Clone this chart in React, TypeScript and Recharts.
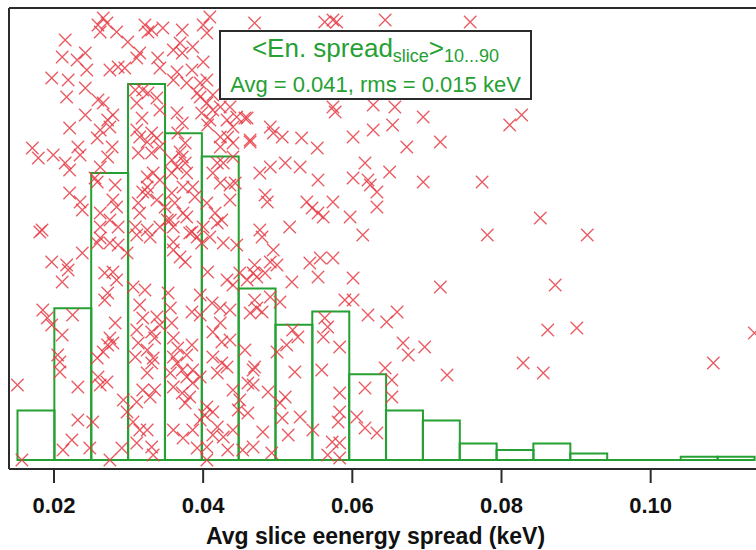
import React from 'react'
import {
  ComposedChart,
  Bar,
  Scatter,
  XAxis,
  YAxis,
  ReferenceLine,
} from 'recharts'

// histogram: 20 equal bins spanning min..max of the slice spread values (keV)
const binStart = 0.01511
const binWidth = 0.00494
const binCounts = [15, 46, 87, 114, 99, 92, 52, 41, 45, 26, 15, 12, 5, 3, 5, 2, 0, 0, 1, 1]

const xTicks = [0.02, 0.04, 0.06, 0.08, 0.1]

// per-shot avg slice energy spread (keV) and shot number
const spreadKeV = [
  0.0266, 0.0259, 0.0271, 0.0262, 0.0284, 0.0299, 0.0322, 0.0326, 0.0331, 0.0346,
  0.0372, 0.04, 0.0409, 0.0405, 0.0215, 0.0211, 0.0231, 0.0242, 0.0244, 0.0197,
  0.0219, 0.0275, 0.0286, 0.0295, 0.0311, 0.0315, 0.0339, 0.0342, 0.036, 0.0369,
  0.0372, 0.0386, 0.0385, 0.04, 0.0405, 0.036, 0.0365, 0.0378, 0.0392, 0.0396,
  0.0413, 0.0242, 0.0217, 0.0259, 0.0266, 0.0279, 0.0272, 0.0242, 0.0221, 0.0262,
  0.0258, 0.0275, 0.0309, 0.0319, 0.0326, 0.0338, 0.0342, 0.0311, 0.0318, 0.0311,
  0.0331, 0.0338, 0.0342, 0.0331, 0.0313, 0.0171, 0.0179, 0.0199, 0.0215, 0.0221,
  0.0232, 0.0235, 0.0278, 0.0272, 0.0262, 0.0255, 0.0258, 0.0282, 0.0221, 0.0235,
  0.0238, 0.0262, 0.0279, 0.0284, 0.0275, 0.0262, 0.0286, 0.0184, 0.0365, 0.0372,
  0.0366, 0.0376, 0.0369, 0.0372, 0.0358, 0.0365, 0.0376, 0.0378, 0.0358, 0.0373,
  0.0386, 0.0389, 0.0358, 0.0362, 0.0373, 0.0378, 0.0356, 0.036, 0.0385, 0.0396,
  0.0405, 0.0413, 0.0398, 0.0409, 0.0406, 0.0423, 0.0436, 0.0445, 0.044, 0.0432,
  0.0456, 0.0463, 0.0423, 0.0433, 0.044, 0.0423, 0.0419, 0.0427, 0.044, 0.0413,
  0.0423, 0.0436, 0.0443, 0.0436, 0.0416, 0.0419, 0.0425, 0.0405, 0.04, 0.0325,
  0.0319, 0.0326, 0.0333, 0.0325, 0.0342, 0.0338, 0.0349, 0.0352, 0.0342, 0.0313,
  0.0315, 0.0309, 0.0325, 0.0329, 0.0315, 0.0325,
  0.0469, 0.0563, 0.0574, 0.0579, 0.0644, 0.0758, 0.0574, 0.0577, 0.0628, 0.0657,
  0.0459, 0.049, 0.0494, 0.0506, 0.0463, 0.0532, 0.0553, 0.0601, 0.0628, 0.0654,
  0.0695, 0.0673, 0.0718, 0.0476, 0.049, 0.051, 0.053, 0.0554, 0.0601, 0.0617,
  0.0621, 0.0624, 0.0633, 0.065, 0.0695, 0.0774, 0.0483, 0.0486, 0.0539, 0.0546,
  0.0554, 0.0561, 0.0574, 0.0597, 0.0633, 0.0476, 0.0516, 0.0614, 0.0781,
  0.0811, 0.0827, 0.0852, 0.0915,
  0.0181, 0.0197, 0.0217, 0.0219, 0.0211, 0.0238, 0.0185, 0.0191, 0.0197, 0.0211,
  0.0225, 0.0151, 0.0205, 0.0208, 0.0208, 0.0232, 0.0232, 0.0224, 0.0212, 0.0157,
  0.0248, 0.0252, 0.0259, 0.0258, 0.0266, 0.0272, 0.0282, 0.0275, 0.0268, 0.0272,
  0.0268, 0.0279, 0.0284, 0.0262, 0.0275, 0.0286, 0.0258, 0.0298, 0.0311, 0.0306,
  0.0322, 0.0315, 0.0319, 0.0311, 0.0313, 0.0325, 0.0309, 0.0333, 0.0335, 0.0331,
  0.0342, 0.0338, 0.0331, 0.0325, 0.0335, 0.0319, 0.0329, 0.0311, 0.0293, 0.0298,
  0.0306, 0.0315, 0.0311, 0.0325, 0.0331, 0.0333, 0.0275, 0.0291, 0.0262, 0.0271,
  0.0279, 0.0353, 0.0356, 0.0358, 0.036, 0.0366, 0.0378, 0.0385, 0.036, 0.0365,
  0.0356, 0.0372, 0.0378, 0.036, 0.0372, 0.0382, 0.0376, 0.0386, 0.0396, 0.0386,
  0.0396, 0.0405, 0.0402, 0.0413, 0.036, 0.0373, 0.0386, 0.0392, 0.0405, 0.0413,
  0.0419, 0.0427, 0.044, 0.0447, 0.046, 0.0453, 0.0433, 0.0405, 0.036, 0.0369,
  0.0376, 0.036, 0.0382, 0.0392, 0.0398, 0.0409, 0.0427, 0.0445, 0.0406, 0.0432,
  0.044, 0.0396, 0.0412, 0.0423, 0.0436, 0.0396, 0.0385, 0.0423, 0.0413, 0.0436,
  0.0425, 0.0413, 0.0425, 0.0432, 0.0419, 0.0456, 0.0467, 0.046, 0.0449, 0.044,
  0.0467, 0.0459, 0.0469, 0.0472, 0.0463,
  0.0479, 0.0494, 0.0469, 0.049, 0.0499, 0.0483, 0.0472, 0.0449, 0.0543, 0.0557,
  0.0574, 0.0554, 0.0519, 0.0601, 0.0718, 0.0479, 0.049, 0.0503, 0.059, 0.0601,
  0.0621, 0.0646, 0.066, 0.0563, 0.0567, 0.0561, 0.052, 0.0527, 0.0512, 0.0499,
  0.0583, 0.0668, 0.0675, 0.0697, 0.0469, 0.0523, 0.0559, 0.0644, 0.0653, 0.0727,
  0.0467, 0.0487, 0.051, 0.0503, 0.0653, 0.0617, 0.0583, 0.0583, 0.0581, 0.0606,
  0.0617, 0.0633, 0.0506, 0.053, 0.048, 0.0514, 0.0547, 0.0467, 0.0492, 0.0573,
  0.0583, 0.0567, 0.0583,
  0.0872, 0.0862, 0.0901, 0.0829, 0.0856, 0.1084, 0.1139,
]

const shotNo = [
  451, 444, 446, 437, 437, 427, 444, 437, 439, 441,
  439, 444, 452, 436, 429, 412, 409, 416, 399, 391,
  389, 399, 402, 401, 411, 416, 411, 401, 419, 426,
  416, 422, 399, 407, 389, 389, 397, 386, 376, 386,
  374, 381, 372, 369, 366, 354, 349, 354, 341, 339,
  331, 342, 379, 379, 376, 371, 359, 366, 351, 339,
  336, 331, 322, 316, 316, 321, 311, 314, 306, 299,
  322, 314, 322, 312, 302, 291, 287, 284, 276, 267,
  259, 256, 269, 262, 249, 242, 242, 239, 356, 346,
  336, 326, 317, 312, 309, 302, 306, 296, 296, 282,
  282, 272, 276, 266, 256, 252, 249, 242, 237, 372,
  366, 359, 356, 349, 344, 362, 362, 352, 342, 349,
  351, 329, 332, 332, 326, 322, 306, 306, 312, 296,
  286, 284, 286, 269, 256, 246, 249, 266, 242, 282,
  277, 276, 296, 292, 289, 269, 262, 249, 242, 266,
  256, 242, 239, 232, 332, 327,
  446, 447, 449, 447, 449, 447, 362, 357, 364, 362,
  351, 342, 336, 332, 327, 331, 321, 332, 339, 344,
  352, 322, 327, 296, 302, 306, 302, 289, 291, 306,
  289, 284, 277, 297, 287, 287, 274, 267, 267, 261,
  256, 252, 267, 252, 262, 239, 242, 234, 234,
  344, 354, 251, 234,
  237, 207, 204, 199, 187, 216, 159, 151, 144, 134,
  154, 84, 114, 107, 97, 82, 49, 29, 19, 9,
  21, 47, 92, 111, 117, 124, 146, 131, 169, 176,
  196, 197, 189, 231, 226, 224, 226, 216, 234, 182,
  179, 164, 151, 139, 126, 119, 112, 111, 131, 137,
  144, 152, 106, 96, 79, 79, 72, 67, 69, 57,
  47, 39, 26, 39, 22, 14, 9, 21, 84, 87,
  126, 176, 161, 146, 131, 121, 114, 124, 112, 106,
  96, 99, 92, 82, 76, 72, 66, 86, 92, 99,
  49, 62, 54, 57, 39, 31, 39, 21, 22, 34,
  42, 32, 39, 59, 56, 19, 19, 9, 219, 212,
  207, 227, 236, 232, 226, 232, 226, 224, 197, 189,
  184, 174, 166, 161, 159, 154, 157, 146, 137, 129,
  127, 112, 106, 102, 96, 119, 99, 86, 69, 79,
  196, 189, 169, 161, 156,
  232, 219, 204, 207, 204, 196, 192, 196, 206, 211,
  211, 192, 187, 191, 182, 157, 172, 167, 169, 169,
  154, 147, 157, 151, 142, 132, 139, 132, 124, 117,
  122, 126, 114, 122, 102, 97, 99, 101, 89, 94,
  84, 77, 72, 66, 72, 81, 76, 57, 47, 52,
  41, 36, 51, 52, 37, 34, 39, 22, 16, 27,
  26, 14, 11,
  184, 139, 141, 106, 96, 106, 136,
]

const GREEN = '#25a032'
const RED = '#e63b44'
const FRAME = '#2b2b2b'
const FONT = '"Liberation Sans", Arial, Helvetica, sans-serif'

const bins = binCounts.map((count, i) => ({
  center: binStart + (i + 0.5) * binWidth,
  count,
}))
const points = spreadKeV.map((spread, i) => ({ spread, shot: shotNo[i] }))

const xDomain: [number, number] = [0.01397, 0.11412]

function Cross(props: any) {
  const { cx, cy } = props
  if (cx == null || cy == null) return null
  const r = 6.2
  return (
    <path
      d={`M${cx - r},${cy - r}L${cx + r},${cy + r}M${cx - r},${cy + r}L${cx + r},${cy - r}`}
      stroke={RED}
      strokeWidth={1.3}
      strokeOpacity={0.85}
      fill="none"
    />
  )
}

function StatsBox() {
  return (
    <div
      style={{
        position: 'absolute',
        left: 219,
        top: 30,
        width: 313,
        height: 70,
        boxSizing: 'border-box',
        border: `2px solid ${FRAME}`,
        background: '#fff',
        color: GREEN,
        fontFamily: FONT,
        textAlign: 'center',
      }}
    >
      <div style={{ fontSize: 26, lineHeight: '30px', marginTop: 1, whiteSpace: 'nowrap' }}>
        &lt;En. spread
        <sub style={{ fontSize: 18, verticalAlign: '-5px' }}>slice</sub>
        &gt;
        <sub style={{ fontSize: 18, verticalAlign: '-5px' }}>10...90</sub>
      </div>
      <div style={{ fontSize: 22, lineHeight: '28px', whiteSpace: 'nowrap' }}>
        Avg = 0.041, rms = 0.015 keV
      </div>
    </div>
  )
}

export default function App() {
  return (
    <div
      style={{
        position: 'absolute',
        left: 0,
        top: 0,
        width: 756,
        height: 550,
        overflow: 'hidden',
        background: '#fff',
      }}
    >
      <ComposedChart
        width={756}
        height={550}
        data={bins}
        margin={{ top: 7, right: 0, bottom: 0, left: 8 }}
        barCategoryGap={0}
        barGap={0}
      >
        <XAxis
          xAxisId="bins"
          dataKey="center"
          type="number"
          domain={xDomain}
          allowDataOverflow
          ticks={xTicks}
          tickFormatter={(v: number) => v.toFixed(2)}
          height={81}
          axisLine={{ stroke: FRAME, strokeWidth: 2 }}
          tickLine={{ stroke: FRAME, strokeWidth: 2 }}
          tickSize={14}
          tickMargin={14}
          tick={{ fill: '#111', fontSize: 22, fontWeight: 700, fontFamily: FONT }}
          label={{
            value: 'Avg slice eenergy spread (keV)',
            position: 'insideBottom',
            offset: 6,
            dx: -7,
            fill: '#111',
            fontSize: 23,
            fontWeight: 700,
            fontFamily: FONT,
          }}
        />
        {/* scatter axis doubles as the top frame line */}
        <XAxis
          xAxisId="pts"
          dataKey="spread"
          orientation="top"
          type="number"
          domain={xDomain}
          allowDataOverflow
          height={1}
          tick={false}
          tickLine={false}
          axisLine={{ stroke: FRAME, strokeWidth: 2 }}
        />
        <YAxis
          yAxisId="count"
          type="number"
          domain={[-2.73, 137]}
          allowDataOverflow
          width={1}
          tick={false}
          tickLine={false}
          axisLine={{ stroke: FRAME, strokeWidth: 2 }}
        />
        <YAxis yAxisId="shot" dataKey="shot" type="number" domain={[0, 461]} allowDataOverflow hide orientation="right" />

        <Scatter
          data={points}
          xAxisId="pts"
          yAxisId="shot"
          shape={<Cross />}
          isAnimationActive={false}
        />
        <Bar
          xAxisId="bins"
          yAxisId="count"
          dataKey="count"
          fill="none"
          stroke={GREEN}
          strokeWidth={2}
          isAnimationActive={false}
        />
        <ReferenceLine
          xAxisId="bins"
          yAxisId="count"
          segment={[
            { x: binStart, y: 0 },
            { x: binStart + binCounts.length * binWidth, y: 0 },
          ]}
          stroke={GREEN}
          strokeWidth={2}
        />
      </ComposedChart>
      <StatsBox />
    </div>
  )
}
